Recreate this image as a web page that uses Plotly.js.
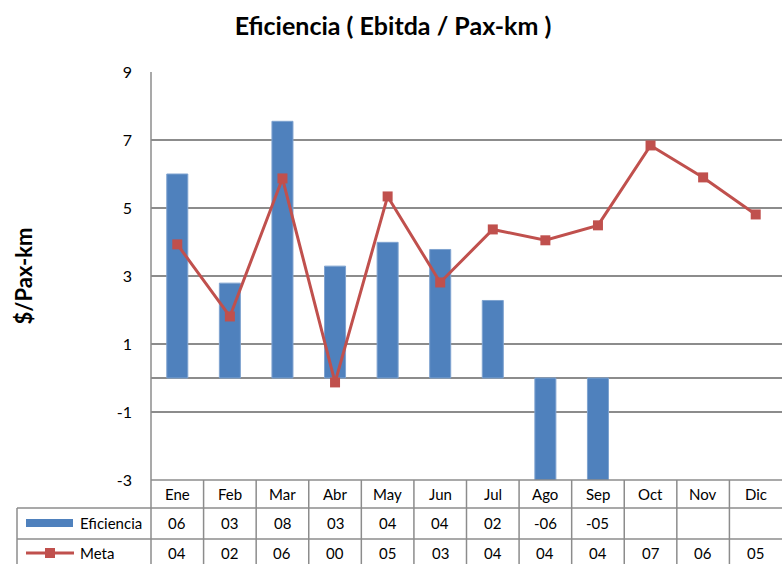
<!DOCTYPE html>
<html>
<head>
<meta charset="utf-8">
<script src="https://cdn.plot.ly/plotly-3.0.1.min.js"></script>
<style>html,body{margin:0;padding:0;background:#fff;}#chart{width:782px;height:564px;}</style>
</head>
<body>
<div id="chart"></div>
<script>
const categories = ["Ene","Feb","Mar","Abr","May","Jun","Jul","Ago","Sep","Oct","Nov","Dic"];
const eficiencia = [6.0, 2.79, 7.55, 3.29, 3.99, 3.78, 2.28, -6.0, -5.0, null, null, null];
const meta = [3.93, 1.81, 5.87, -0.13, 5.34, 2.81, 4.37, 4.05, 4.49, 6.84, 5.9, 4.81];
const yTicks = [-3, -1, 1, 3, 5, 7, 9];

const W = 782, H = 564, L = 151, T = 72, B = 84;
const plotH = H - T - B;
const py = p => (H - B - p) / plotH;          // pixel y -> paper y
const px = p => (p - L) / (W - L);            // pixel x -> paper x

function fmt(v) {
  if (v === null || v === undefined) return "";
  const r = Math.round(v);
  const a = Math.abs(r);
  return (r < 0 ? "-" : "") + (a < 10 ? "0" : "") + a;
}

const FONT = "Lato, 'Open Sans', sans-serif";
const lineCol = "#8c8c8c";
const shapes = [];
const annotations = [];

// table lines
shapes.push({type:"line", xref:"paper", yref:"paper", x0:0, x1:1, y0:py(480), y1:py(480), line:{color:lineCol, width:1.5}});
[508, 539].forEach(r => shapes.push({type:"line", xref:"paper", yref:"paper", x0:px(17), x1:1, y0:py(r), y1:py(r), line:{color:lineCol, width:1.5}}));
shapes.push({type:"line", xref:"paper", yref:"paper", x0:px(17), x1:px(17), y0:py(508), y1:py(600), line:{color:lineCol, width:1.5}});
shapes.push({type:"line", xref:"paper", yref:"paper", x0:0, x1:0, y0:1, y1:py(600), line:{color:lineCol, width:1.5}});
for (let i = 1; i < categories.length; i++) {
  shapes.push({type:"line", xref:"x", yref:"paper", x0:i-0.5, x1:i-0.5, y0:py(480), y1:py(600), line:{color:lineCol, width:1.5}});
}
// legend keys
shapes.push({type:"rect", xref:"paper", yref:"paper", x0:px(26), x1:px(73), y0:py(519), y1:py(527), fillcolor:"#4F81BD", line:{width:0}});
shapes.push({type:"line", xref:"paper", yref:"paper", x0:px(26), x1:px(74), y0:py(553), y1:py(553), line:{color:"#C0504D", width:3}});
shapes.push({type:"rect", xref:"paper", yref:"paper", x0:px(45), x1:px(55), y0:py(548), y1:py(558), fillcolor:"#C0504D", line:{width:0}});

const cellFont = {family: FONT, size: 15, color: "#000"};
annotations.push({xref:"paper", yref:"paper", x:px(78), y:py(523), xanchor:"left", yanchor:"middle", text:"Eficiencia", showarrow:false, font:cellFont});
annotations.push({xref:"paper", yref:"paper", x:px(78), y:py(553), xanchor:"left", yanchor:"middle", text:"Meta", showarrow:false, font:cellFont});
categories.forEach((c, i) => {
  annotations.push({xref:"x", yref:"paper", x:i, y:py(494), yanchor:"middle", text:c, showarrow:false, font:cellFont});
  annotations.push({xref:"x", yref:"paper", x:i, y:py(523), yanchor:"middle", text:fmt(eficiencia[i]), showarrow:false, font:cellFont});
  annotations.push({xref:"x", yref:"paper", x:i, y:py(553), yanchor:"middle", text:fmt(meta[i]), showarrow:false, font:cellFont});
});

const traces = [
  {type:"bar", x:categories, y:eficiencia, name:"Eficiencia", width:0.4,
   marker:{color:"#4F81BD", line:{color:"#7fa3d0", width:1}}, cliponaxis:true},
  {type:"scatter", mode:"lines+markers", x:categories, y:meta, name:"Meta",
   line:{color:"#C0504D", width:3}, marker:{symbol:"square", size:10, color:"#C0504D"}, cliponaxis:false}
];

const layout = {
  width: W, height: H,
  margin: {l: L, r: 0, t: T, b: B, pad: 0},
  paper_bgcolor: "#fff", plot_bgcolor: "#fff",
  showlegend: false,
  font: {family: FONT, color: "#000"},
  title: {text: "<b>Eficiencia ( Ebitda / Pax-km )</b>", font: {family: FONT, size: 25, color: "#000"},
          x: 393 / W, xref: "container", xanchor: "center", y: 1 - 26 / H, yref: "container", yanchor: "middle"},
  xaxis: {type: "category", range: [-0.5, 11.5], showticklabels: false, showgrid: false,
          zeroline: false, showline: false, ticks: "", fixedrange: true},
  yaxis: {range: [-3, 9], tickvals: yTicks, ticktext: yTicks.map(String), showgrid: true,
          gridcolor: lineCol, gridwidth: 1.5, zeroline: true, zerolinecolor: lineCol, zerolinewidth: 1.5,
          showline: false, ticks: "", ticklabelstandoff: 18,
          tickfont: {family: FONT, size: 16, color: "#000"},
          title: {text: "<b>$/Pax-km</b>", font: {family: FONT, size: 22, color: "#000"}, standoff: 78}},
  shapes: shapes,
  annotations: annotations
};

Plotly.newPlot("chart", traces, layout, {displayModeBar: false, staticPlot: true});
</script>
</body>
</html>
